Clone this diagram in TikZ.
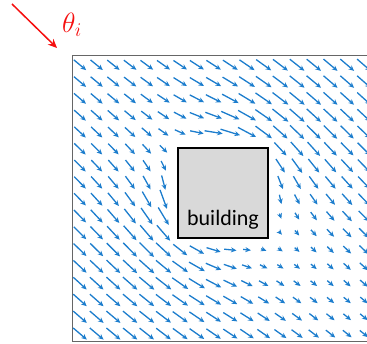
\documentclass[tikz,border=0pt]{standalone}
\usepackage{fontspec}
\newfontfamily\bldfont{Carlito}
\usetikzlibrary{arrows.meta}
\definecolor{flowblue}{RGB}{28,125,205}
\definecolor{windred}{RGB}{245,15,15}
\definecolor{bldgray}{RGB}{217,217,217}

\begin{document}
\begin{tikzpicture}[x=1pt,y=-1pt,
    vec/.style={flowblue,line width=1.3pt,-{Stealth[length=5.5pt,width=5pt]}},
    wind/.style={windred,line width=1.5pt,-{Stealth[length=9pt,width=8pt]}},
    bld/.style={draw,line width=1.6pt,fill=bldgray,minimum size=90pt,inner sep=0pt},
    frm/.style={gray!80!black,line width=1pt}]
  \useasboundingbox (0,0) rectangle (367,344);
  % --- domain frame ---
  \draw[frm] (367,56) -- (72,56) -- (72,342) -- (367,342);
  % --- velocity field: uniform inflow at 40 deg, bent round the block ---
  \foreach \j in {0,...,16}{
    \foreach \i in {0,...,17}{
      \pgfmathsetmacro\px{80+16.7*\i}
      \pgfmathsetmacro\py{65+16.8*\j}
      \pgfmathtruncatemacro\inside{(abs(\px-223)<47 && abs(\py-193)<47) ? 1 : 0}
      \ifnum\inside=0
        \pgfmathsetmacro\qx{(\px-223)/46}
        \pgfmathsetmacro\qy{(\py-193)/46}
        \pgfmathsetmacro\fs{0.766*\qx+0.643*\qy}
        \pgfmathsetmacro\fn{-0.643*\qx+0.766*\qy}
        \pgfmathsetmacro\rtwo{\fs*\fs+\fn*\fn+0.0001}
        \pgfmathsetmacro\rr{max(\rtwo,1.15)}
        \pgfmathsetmacro\ua{1-(\fs*\fs-\fn*\fn)/\rtwo/\rr}
        \pgfmathsetmacro\va{-2*\fs*\fn/\rtwo/\rr}
        \pgfmathsetmacro\vx{0.766*\ua-0.643*\va}
        \pgfmathsetmacro\vy{0.643*\ua+0.766*\va}
        \pgfmathsetmacro\mag{sqrt(\vx*\vx+\vy*\vy)+0.0001}
        \pgfmathsetmacro\wk{\fs>0 ? 0.65*exp(-\fn*\fn/1.5)*exp(-\fs/8) : 0}
        \pgfmathsetmacro\len{17*(1-\wk)*min(\mag,1.2)}
        \pgfmathsetmacro\dx{0.5*\len*\vx/\mag}
        \pgfmathsetmacro\dy{0.5*\len*\vy/\mag}
        \draw[vec] (\px-\dx,\py-\dy) -- (\px+\dx,\py+\dy);
      \fi
    }
  }
  % --- building ---
  \node[bld] (building) at (223,193) {};
  \node[font=\bldfont\fontsize{22}{24}\selectfont,anchor=base,inner sep=0pt] (bldname) at (223,226) {building};
  % --- incoming wind ---
  \coordinate (windtail) at (12,4);
  \coordinate (windtip) at (57,48);
  \draw[wind] (windtail) -- (windtip);
  \node[windred,font=\fontsize{24}{26}\selectfont,scale=1.12,transform shape] (windangle) at (72,25) {$\theta_i$};
\end{tikzpicture}
\end{document}
